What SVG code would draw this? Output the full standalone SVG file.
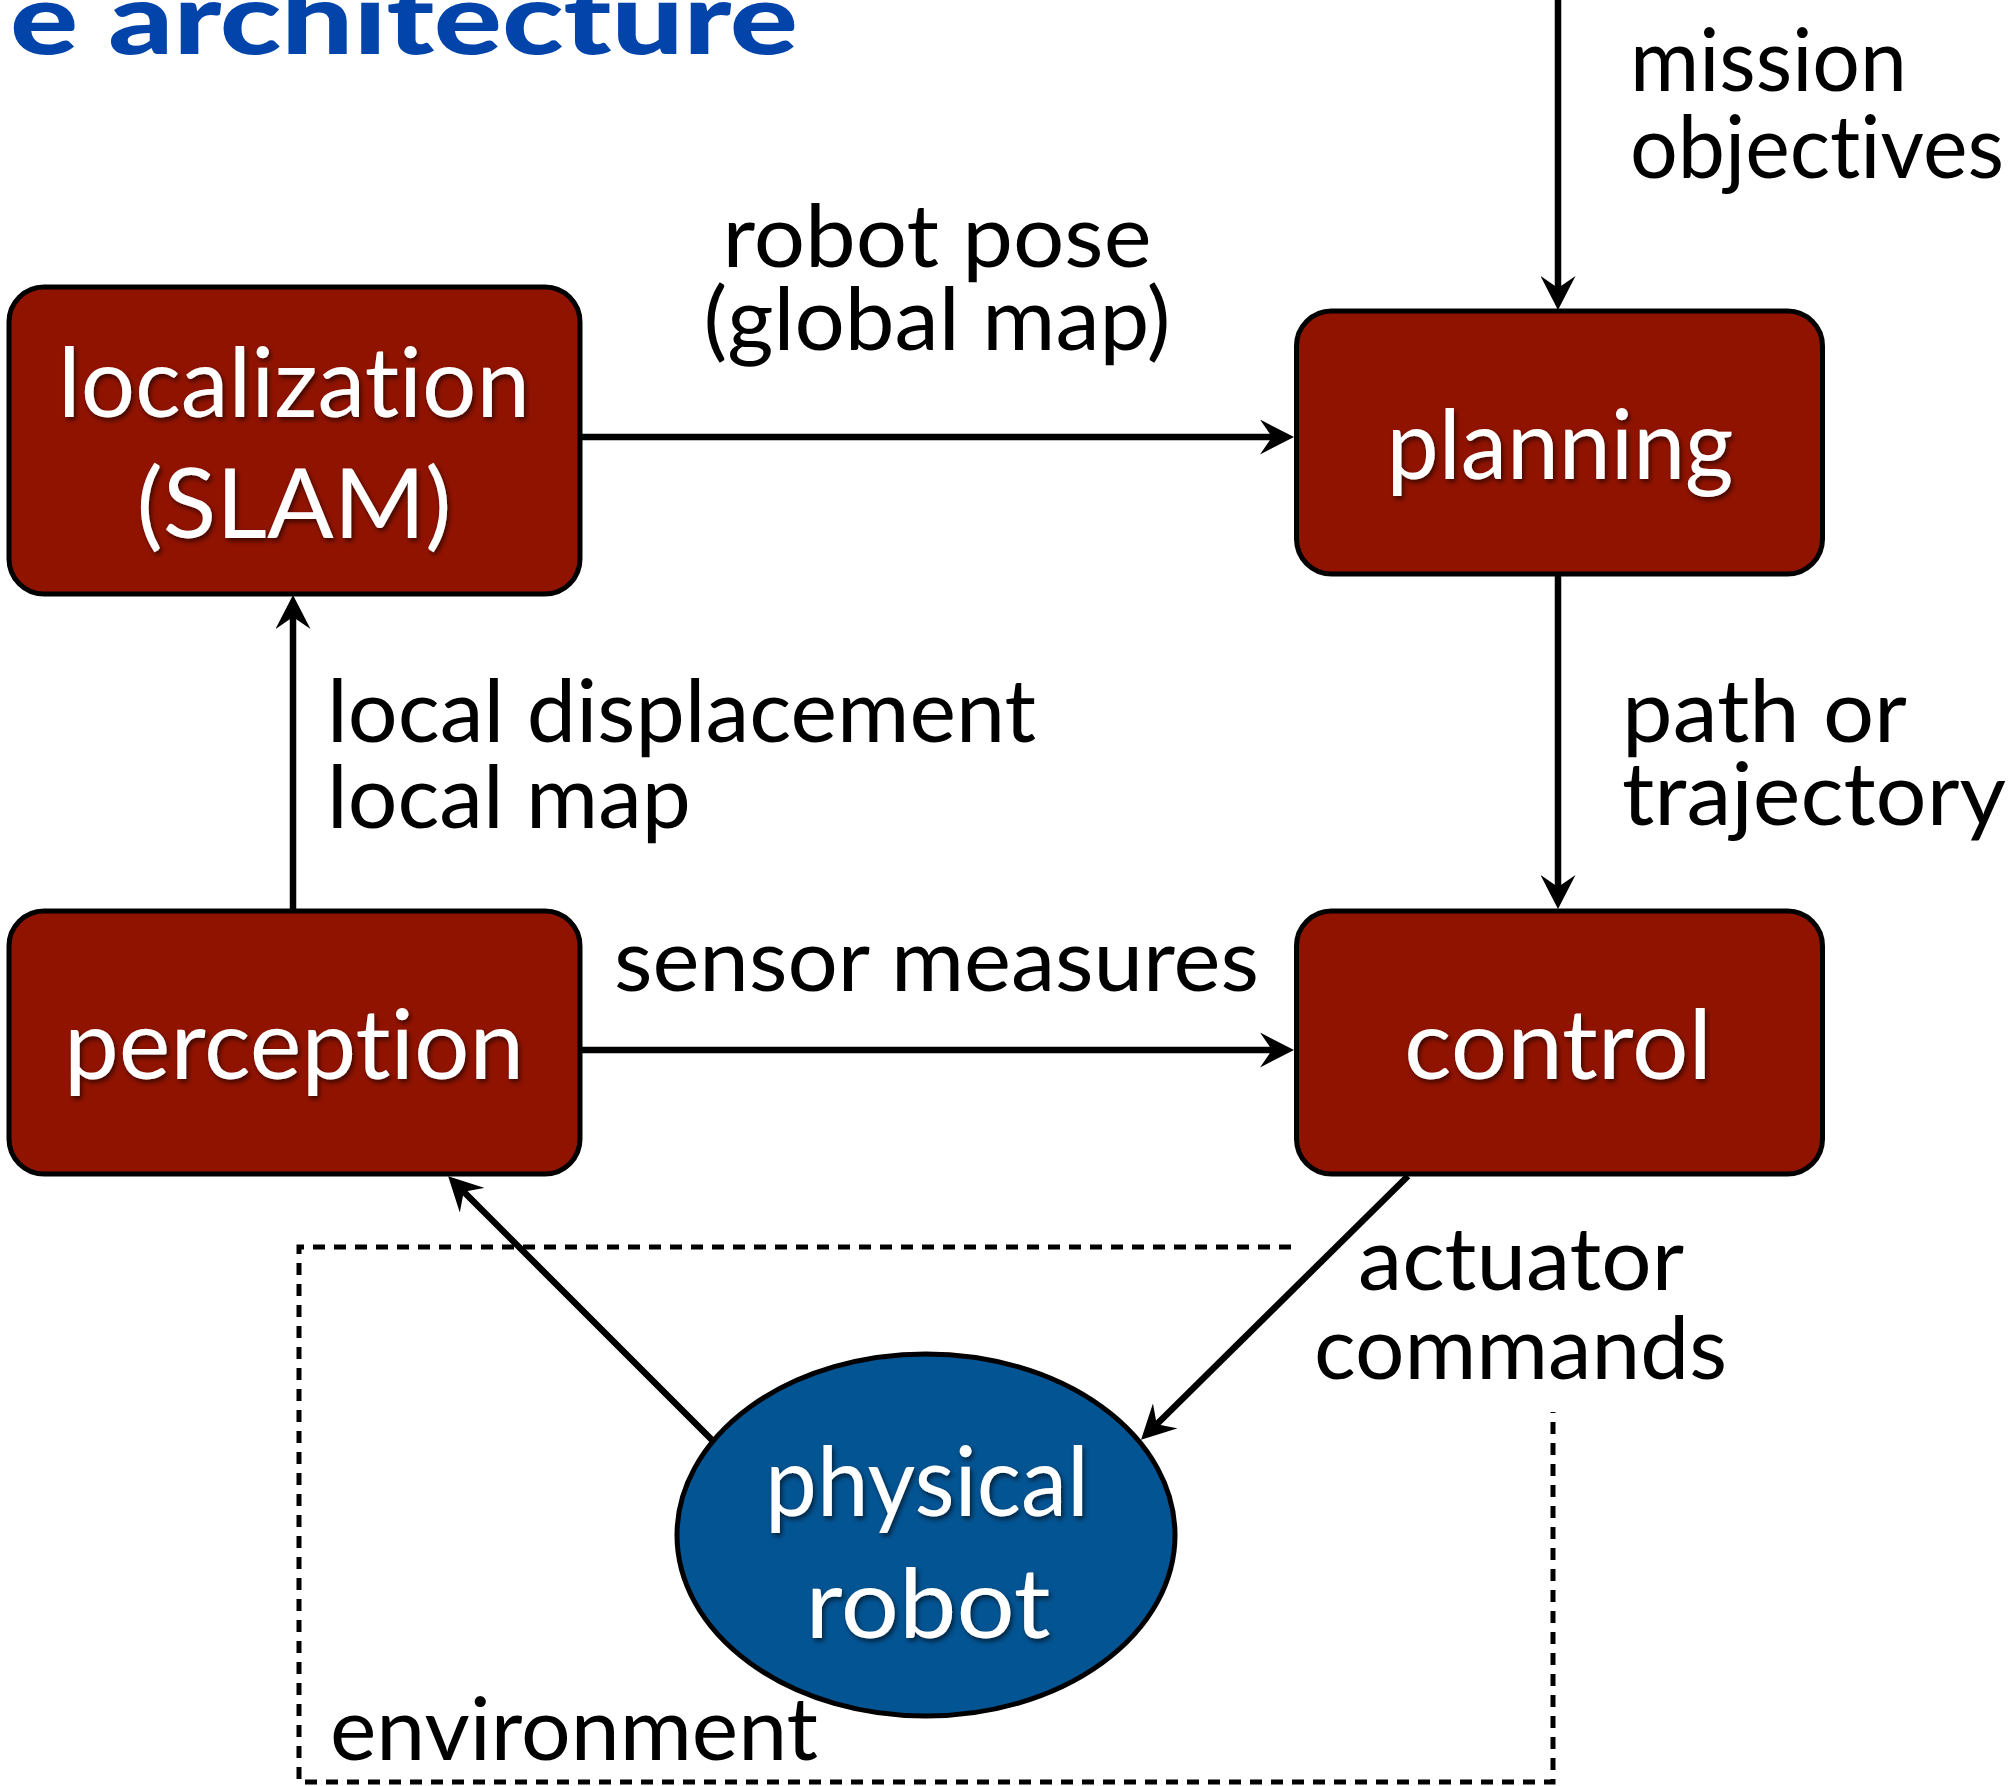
<svg xmlns="http://www.w3.org/2000/svg" width="2014" height="1786" viewBox="0 0 2014 1786">
  <style>
    text { font-variant-ligatures: none; font-feature-settings: "liga" 0, "clig" 0; }
    .box { fill: #901300; stroke: #000; stroke-width: 5; }
    .ell { fill: #035493; stroke: #000; stroke-width: 5; }
    .ntxt { font-family: Lato, "Open Sans", "Liberation Sans", sans-serif; font-size: 97px; fill: #fff; text-anchor: middle; filter: url(#shadow); }
    .ltxt { font-family: Lato, "Open Sans", "Liberation Sans", sans-serif; font-size: 87px; fill: #000; }
    .mid { text-anchor: middle; }
    .conn { stroke: #000; stroke-width: 6.5; fill: none; marker-end: url(#arrow); }
    .env { stroke: #000; stroke-width: 5; fill: none; stroke-dasharray: 12 9; }
    .title { font-family: Lato, "Open Sans", "Liberation Sans", sans-serif; font-weight: 900; font-size: 100px; fill: #0344AB; }
  </style>
  <defs>
    <marker id="arrow" viewBox="0 0 34 35" refX="13" refY="17.5" markerWidth="34" markerHeight="35" markerUnits="userSpaceOnUse" orient="auto">
      <path d="M0,0 L34,17.5 L0,35 L12,17.5 Z" fill="#000"/>
    </marker>
    <filter id="shadow" x="-10%" y="-20%" width="120%" height="140%">
      <feDropShadow dx="2" dy="3" stdDeviation="2.5" flood-color="#000" flood-opacity="0.6"/>
    </filter>
  </defs>
  <rect width="2014" height="1786" fill="#fff"/>

  <text class="title" x="10" y="54" textLength="788" lengthAdjust="spacingAndGlyphs">e architecture</text>

  <g id="environment">
    <path class="env" d="M1291,1247 H299 V1782 H1553 V1412"/>
    <text class="ltxt" x="330" y="1760" textLength="488" lengthAdjust="spacingAndGlyphs">environment</text>
  </g>

  <g id="localization">
    <rect class="box" x="9" y="287" width="571" height="307" rx="35" ry="35"/>
    <text class="ntxt" x="294" y="417" textLength="472" lengthAdjust="spacingAndGlyphs">localization</text>
    <text class="ntxt" x="294" y="538" textLength="315" lengthAdjust="spacingAndGlyphs">(SLAM)</text>
  </g>

  <g id="planning">
    <rect class="box" x="1296.5" y="311" width="526" height="263" rx="35" ry="35"/>
    <text class="ntxt" x="1560" y="479" textLength="347" lengthAdjust="spacingAndGlyphs">planning</text>
  </g>

  <g id="perception">
    <rect class="box" x="9" y="911" width="571" height="263" rx="35" ry="35"/>
    <text class="ntxt" x="294" y="1079" textLength="460" lengthAdjust="spacingAndGlyphs">perception</text>
  </g>

  <g id="control">
    <rect class="box" x="1296.5" y="911" width="526" height="263" rx="35" ry="35"/>
    <text class="ntxt" x="1558" y="1079" textLength="308" lengthAdjust="spacingAndGlyphs">control</text>
  </g>

  <g id="physical-robot">
    <ellipse class="ell" cx="926" cy="1535" rx="249" ry="181"/>
    <text class="ntxt" x="927" y="1516" textLength="324" lengthAdjust="spacingAndGlyphs">physical</text>
    <text class="ntxt" x="928" y="1638" textLength="245" lengthAdjust="spacingAndGlyphs">robot</text>
  </g>

  <g id="connectors">
    <line class="conn" x1="1558" y1="-5" x2="1558" y2="289"/>
    <line class="conn" x1="582" y1="437" x2="1273" y2="437"/>
    <line class="conn" x1="1558" y1="576" x2="1558" y2="888"/>
    <line class="conn" x1="293" y1="909" x2="293" y2="616"/>
    <line class="conn" x1="582" y1="1050" x2="1273" y2="1050"/>
    <line class="conn" x1="712" y1="1440" x2="463" y2="1191"/>
    <line class="conn" x1="1408" y1="1176" x2="1156" y2="1425"/>
  </g>

  <g id="labels">
    <text class="ltxt" x="1630" y="91" textLength="277" lengthAdjust="spacingAndGlyphs">mission</text>
    <text class="ltxt" x="1630" y="178" textLength="374" lengthAdjust="spacingAndGlyphs">objectives</text>
    <text class="ltxt mid" x="937" y="267" textLength="429" lengthAdjust="spacingAndGlyphs">robot pose</text>
    <text class="ltxt mid" x="937" y="350" textLength="467" lengthAdjust="spacingAndGlyphs">(global map)</text>
    <text class="ltxt" x="327" y="742" textLength="709" lengthAdjust="spacingAndGlyphs">local displacement</text>
    <text class="ltxt" x="327" y="828" textLength="364" lengthAdjust="spacingAndGlyphs">local map</text>
    <text class="ltxt" x="1622" y="742" textLength="285" lengthAdjust="spacingAndGlyphs">path or</text>
    <text class="ltxt" x="1622" y="825" textLength="384" lengthAdjust="spacingAndGlyphs">trajectory</text>
    <text class="ltxt" x="614" y="991" textLength="645" lengthAdjust="spacingAndGlyphs">sensor measures</text>
    <text class="ltxt" x="1358" y="1290" textLength="326" lengthAdjust="spacingAndGlyphs">actuator</text>
    <text class="ltxt" x="1314" y="1379" textLength="413" lengthAdjust="spacingAndGlyphs">commands</text>
  </g>
</svg>
